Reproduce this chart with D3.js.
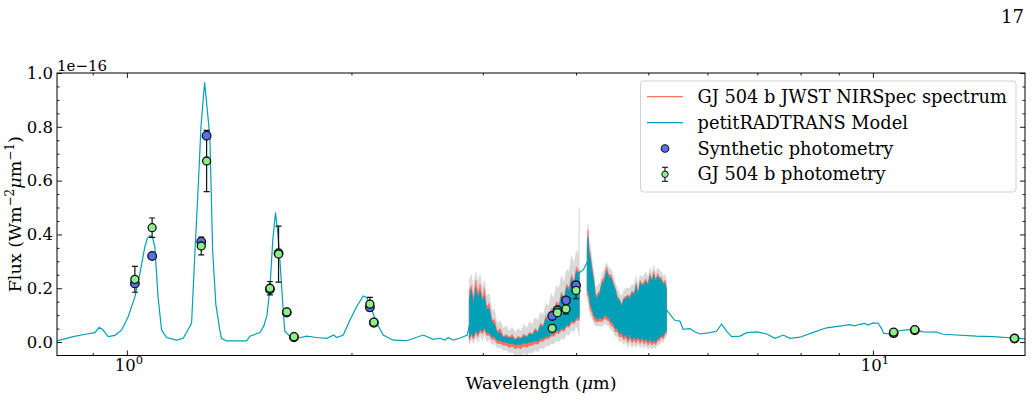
<!DOCTYPE html>
<html>
<head>
  <meta charset="utf-8">
  <script src="https://d3js.org/d3.v7.min.js"></script>
  <style>
    body { margin: 0; background: #fff; }
    text { font-family: "DejaVu Serif", serif; fill: #000; }
  </style>
</head>
<body>
<script>
  // ---- data (flux in units of 1e-16 W m^-2 um^-1) ----

  // petitRADTRANS model, outside the NIRSpec band (null = break)
  var modelWave = [0.806, 0.847, 0.883, 0.906, 0.918, 0.929, 0.944, 0.964, 0.984, 1.004,
    1.025, 1.041, 1.057, 1.065, 1.073, 1.082, 1.090, 1.101, 1.113, 1.130,
    1.166, 1.190, 1.221, 1.234, 1.245, 1.257, 1.271, 1.280, 1.292, 1.303,
    1.316, 1.332, 1.339, 1.360, 1.447, 1.462, 1.508, 1.526, 1.541, 1.555,
    1.569, 1.582, 1.594, 1.604, 1.620, 1.628, 1.654, 1.706, 1.741, 1.796,
    1.853, 1.894, 1.910, 1.950, 1.991, 2.032, 2.074, 2.096, 2.118, 2.162,
    2.206, 2.275, 2.371, 2.496, 2.574, 2.628, 2.669, 2.696, 2.738, 2.810,
    2.859, 2.877, null,
    4.03, 4.09, 4.145, null,
    5.291, 5.428, 5.512, 5.568, 5.684, 5.772, 5.862, 6.045, 6.172, 6.268,
    6.368, 6.467, 6.635, 6.773, 6.985, 7.205, 7.391, 7.583, 7.741, 7.984,
    8.318, 8.669, 9.124, 9.3, 9.45, 9.607, 9.75, 9.85, 10.0, 10.165,
    10.27, 10.34, 10.54, 10.87, 11.10, 11.32, 11.68, 12.17, 12.42, 13.77,
    14.50, 15.42, 15.99];
  var modelFlux = [0.004, 0.020, 0.030, 0.035, 0.055, 0.045, 0.020, 0.025, 0.045, 0.094,
    0.168, 0.255, 0.354, 0.385, 0.395, 0.390, 0.354, 0.168, 0.045, 0.017,
    0.007, 0.014, 0.070, 0.340, 0.550, 0.800, 0.965, 0.880, 0.760, 0.342,
    0.140, 0.045, 0.014, 0.004, 0.004, 0.022, 0.035, 0.060, 0.100, 0.200,
    0.380, 0.481, 0.400, 0.300, 0.120, 0.040, 0.022, 0.016, 0.022, 0.017,
    0.014, 0.026, 0.017, 0.026, 0.082, 0.131, 0.171, 0.166, 0.138, 0.070,
    0.026, 0.007, 0.005, 0.026, 0.010, 0.014, 0.007, 0.017, 0.007, 0.017,
    0.026, 0.060, null,
    0.255, 0.268, 0.300, null,
    0.119, 0.080, 0.078, 0.047, 0.050, 0.038, 0.030, 0.035, 0.040, 0.067,
    0.040, 0.020, 0.022, 0.035, 0.038, 0.030, 0.014, 0.026, 0.014, 0.018,
    0.036, 0.053, 0.061, 0.065, 0.060, 0.066, 0.069, 0.063, 0.071, 0.070,
    0.050, 0.032, 0.030, 0.043, 0.045, 0.047, 0.038, 0.037, 0.029, 0.022,
    0.020, 0.015, 0.012];

  // NIRSpec region: error band, spectrum band, model band (null = detector gap)
  var specWave = [2.877, 2.895, 2.915, 2.935, 2.955, 2.975, 2.995, 3.015, 3.035, 3.06,
    3.085, 3.11, 3.135, 3.165, 3.195, 3.225, 3.255, 3.285, 3.315, 3.345,
    3.375, 3.405, 3.435, 3.465, 3.495, 3.525, 3.555, 3.585, 3.615, 3.645,
    3.675, 3.705, 3.735, 3.765, 3.795, 3.825, 3.855, 3.885, 3.915, 3.945,
    3.975, 4.005, 4.03, 4.04, 4.09, 4.14, 4.15, 4.165, 4.18, 4.2,
    4.225, 4.25, 4.275, 4.305, 4.335, 4.365, 4.395, 4.425, 4.455, 4.485,
    4.515, 4.545, 4.575, 4.605, 4.635, 4.665, 4.695, 4.725, 4.755, 4.785,
    4.815, 4.845, 4.875, 4.905, 4.935, 4.965, 4.995, 5.025, 5.055, 5.085,
    5.115, 5.145, 5.175, 5.205, 5.235, 5.265, 5.29];
  var errLo = [-0.01, 0.01, -0.005, 0.02, 0.0, 0.025, 0.005, 0.03, 0.0, 0.01,
    -0.01, -0.005, -0.02, -0.02, -0.03, -0.03, -0.04, -0.038, -0.048, -0.045,
    -0.05, -0.04, -0.05, -0.038, -0.042, -0.03, -0.035, -0.022, -0.025, -0.015,
    -0.015, -0.005, -0.008, 0.005, 0.0, 0.015, 0.01, 0.03, 0.025, 0.045,
    0.04, 0.06, 0.04, 0.02, null, 0.15, 0.16, 0.12, 0.10, 0.09,
    0.07, 0.06, 0.06, 0.06, 0.058, 0.07, 0.065, 0.06, 0.045, 0.04,
    0.02, 0.022, 0.0, 0.005, -0.01, 0.0, -0.02, -0.002, -0.022, -0.008,
    -0.02, -0.005, -0.022, -0.01, -0.025, -0.012, -0.028, -0.015, -0.028, -0.018,
    -0.025, -0.01, -0.01, 0.002, -0.002, 0.015, 0.02];
  var specLo = [0.005, 0.025, 0.01, 0.035, 0.02, 0.04, 0.03, 0.045, 0.025, 0.025,
    0.01, 0.01, -0.005, -0.005, -0.012, -0.012, -0.02, -0.016, -0.025, -0.02,
    -0.025, -0.016, -0.02, -0.012, -0.012, -0.006, -0.008, 0.002, 0.004, 0.012,
    0.012, 0.022, 0.022, 0.034, 0.032, 0.044, 0.04, 0.058, 0.055, 0.072,
    0.068, 0.082, 0.08, 0.08, null, 0.17, 0.18, 0.15, 0.12, 0.11,
    0.085, 0.075, 0.075, 0.078, 0.075, 0.088, 0.082, 0.078, 0.062, 0.058,
    0.038, 0.038, 0.018, 0.022, 0.008, 0.018, -0.002, 0.014, -0.004, 0.008,
    -0.004, 0.01, -0.006, 0.006, -0.008, 0.002, -0.012, 0.0, -0.012, -0.004,
    -0.01, 0.004, 0.006, 0.018, 0.012, 0.03, 0.032];
  var modLo = [0.014, 0.035, 0.02, 0.045, 0.03, 0.05, 0.04, 0.055, 0.035, 0.035,
    0.02, 0.02, 0.007, 0.006, 0.0, -0.001, -0.006, -0.004, -0.01, -0.008,
    -0.009, -0.003, -0.005, 0.0, 0.0, 0.004, 0.003, 0.012, 0.012, 0.022,
    0.02, 0.032, 0.03, 0.042, 0.04, 0.052, 0.048, 0.065, 0.062, 0.08,
    0.075, 0.09, 0.09, 0.09, null, 0.19, 0.20, 0.17, 0.14, 0.125,
    0.10, 0.09, 0.085, 0.09, 0.085, 0.10, 0.095, 0.09, 0.075, 0.07,
    0.05, 0.05, 0.03, 0.035, 0.02, 0.03, 0.01, 0.025, 0.008, 0.02,
    0.008, 0.02, 0.005, 0.018, 0.004, 0.014, 0.0, 0.012, -0.002, 0.008,
    0.0, 0.014, 0.015, 0.028, 0.02, 0.038, 0.04];
  var modHi = [0.16, 0.195, 0.14, 0.20, 0.165, 0.19, 0.15, 0.17, 0.12, 0.125,
    0.075, 0.065, 0.035, 0.035, 0.018, 0.02, 0.015, 0.018, 0.008, 0.015,
    0.012, 0.022, 0.018, 0.03, 0.026, 0.042, 0.036, 0.062, 0.055, 0.09,
    0.075, 0.115, 0.095, 0.14, 0.13, 0.175, 0.155, 0.205, 0.19, 0.235,
    0.215, 0.265, 0.25, 0.26, null, 0.34, 0.39, 0.33, 0.31, 0.27,
    0.225, 0.16, 0.17, 0.18, 0.22, 0.225, 0.265, 0.24, 0.24, 0.215,
    0.195, 0.16, 0.155, 0.13, 0.16, 0.16, 0.17, 0.16, 0.185, 0.17,
    0.21, 0.175, 0.22, 0.21, 0.215, 0.225, 0.21, 0.245, 0.225, 0.25,
    0.225, 0.245, 0.235, 0.23, 0.215, 0.22, 0.19];
  var specHi = [0.19, 0.21, 0.16, 0.23, 0.18, 0.215, 0.16, 0.20, 0.13, 0.145,
    0.08, 0.085, 0.04, 0.05, 0.02, 0.028, 0.018, 0.028, 0.01, 0.022,
    0.015, 0.03, 0.02, 0.036, 0.03, 0.05, 0.04, 0.07, 0.06, 0.098,
    0.08, 0.125, 0.10, 0.15, 0.14, 0.185, 0.16, 0.215, 0.20, 0.25,
    0.22, 0.28, 0.26, 0.27, null, 0.36, 0.416, 0.345, 0.33, 0.28,
    0.235, 0.17, 0.18, 0.19, 0.23, 0.24, 0.28, 0.25, 0.25, 0.225,
    0.20, 0.17, 0.16, 0.14, 0.165, 0.17, 0.175, 0.17, 0.19, 0.18,
    0.22, 0.18, 0.23, 0.215, 0.225, 0.235, 0.215, 0.255, 0.23, 0.262,
    0.23, 0.255, 0.24, 0.24, 0.22, 0.23, 0.20];
  var errHi = [0.23, 0.25, 0.20, 0.26, 0.22, 0.25, 0.20, 0.23, 0.17, 0.18,
    0.12, 0.12, 0.07, 0.08, 0.05, 0.06, 0.04, 0.055, 0.035, 0.05,
    0.04, 0.065, 0.05, 0.075, 0.065, 0.09, 0.08, 0.11, 0.10, 0.145,
    0.13, 0.18, 0.16, 0.21, 0.20, 0.245, 0.22, 0.27, 0.26, 0.32,
    0.29, 0.34, 0.32, 0.50, null, 0.39, 0.44, 0.37, 0.36, 0.31,
    0.26, 0.20, 0.21, 0.22, 0.25, 0.27, 0.295, 0.275, 0.27, 0.25,
    0.22, 0.20, 0.18, 0.17, 0.19, 0.20, 0.20, 0.20, 0.215, 0.21,
    0.245, 0.21, 0.25, 0.24, 0.25, 0.26, 0.24, 0.275, 0.255, 0.285,
    0.255, 0.275, 0.265, 0.26, 0.245, 0.25, 0.23];

  // GJ 504 b photometry
  var photWave = [1.025, 1.081, 1.258, 1.279, 1.555, 1.597, 1.638, 1.675, 2.117, 2.143,
    3.716, 3.776, 3.878, 4.00, 10.66, 11.38, 15.48];
  var photFlux = [0.233, 0.425, 0.357, 0.673, 0.200, 0.327, 0.112, 0.020, 0.141, 0.074,
    0.051, 0.109, 0.123, 0.192, 0.037, 0.046, 0.014];
  var photErr = [0.048, 0.036, 0.033, 0.114, 0.025, 0.104, 0.008, 0.003, 0.025, 0.005,
    0.004, 0.01, 0.018, 0.031, 0.004, 0.004, 0.003];

  // synthetic photometry from the model
  var synWave = [1.025, 1.081, 1.258, 1.279, 1.555, 1.597, 1.638, 1.675, 2.117, 2.143,
    3.716, 3.776, 3.878, 4.00, 10.66, 11.38, 15.48];
  var synFlux = [0.218, 0.320, 0.373, 0.767, 0.196, 0.330, 0.110, 0.018, 0.129, 0.072,
    0.097, 0.118, 0.155, 0.211, 0.033, 0.044, 0.013];

  var xMajor = [1, 10];
  var xMinor = [0.9, 2, 3, 4, 5, 6, 7, 8, 9];
  var yMajor = [0.0, 0.2, 0.4, 0.6, 0.8, 1.0];
  var yMinor = [0.05, 0.1, 0.15, 0.25, 0.3, 0.35, 0.45, 0.5, 0.55, 0.65, 0.7, 0.75, 0.85, 0.9, 0.95];

  var legendLabels = ["GJ 504 b JWST NIRSpec spectrum", "petitRADTRANS Model",
    "Synthetic photometry", "GJ 504 b photometry"];

  // ---- chart ----
  var width = 1033, height = 413;
  var pL = 57, pR = 1025, pT = 73, pB = 355.5;
  var cTeal = "#00a0b8", cRed = "#ff7163", cGrey = "#d9d9d9",
      cBlue = "#5a6ff0", cGreen = "#8af08a";

  var svg = d3.select("body").append("svg")
    .attr("width", width).attr("height", height);

  var x = d3.scaleLog().domain([0.806, 15.99]).range([pL, pR]);
  var y = d3.scaleLinear().domain([-0.05, 1.0]).range([pB, pT]);

  svg.append("defs").append("clipPath").attr("id", "clip")
    .append("rect").attr("x", pL).attr("y", pT)
    .attr("width", pR - pL).attr("height", pB - pT);

  var plot = svg.append("g").attr("clip-path", "url(#clip)");

  function band(lo, hi) {
    return d3.area()
      .defined(function (d, i) { return lo[i] != null; })
      .x(function (d) { return x(d); })
      .y0(function (d, i) { return y(lo[i]); })
      .y1(function (d, i) { return y(hi[i]); });
  }

  plot.append("path").attr("d", band(errLo, errHi)(specWave))
    .attr("fill", cGrey).attr("stroke", cGrey).attr("stroke-width", 0.6);
  plot.append("path").attr("d", band(specLo, specHi)(specWave))
    .attr("fill", cRed).attr("stroke", cRed).attr("stroke-width", 0.6);
  plot.append("path").attr("d", band(modLo, modHi)(specWave))
    .attr("fill", cTeal).attr("stroke", cTeal).attr("stroke-width", 0.6);

  var line = d3.line()
    .defined(function (d, i) { return modelFlux[i] != null; })
    .x(function (d) { return x(d); })
    .y(function (d, i) { return y(modelFlux[i]); });
  plot.append("path").attr("d", line(modelWave))
    .attr("fill", "none").attr("stroke", cTeal).attr("stroke-width", 1.2);

  // error bars
  var eb = plot.append("g").attr("stroke", "#111").attr("stroke-width", 1.2);
  photWave.forEach(function (w, i) {
    var cx = x(w), ya = y(photFlux[i] - photErr[i]), yb = y(photFlux[i] + photErr[i]);
    eb.append("line").attr("x1", cx).attr("x2", cx).attr("y1", ya).attr("y2", yb);
    eb.append("line").attr("x1", cx - 3).attr("x2", cx + 3).attr("y1", ya).attr("y2", ya);
    eb.append("line").attr("x1", cx - 3).attr("x2", cx + 3).attr("y1", yb).attr("y2", yb);
  });

  plot.selectAll("circle.syn").data(synWave).enter().append("circle")
    .attr("class", "syn")
    .attr("cx", function (d) { return x(d); })
    .attr("cy", function (d, i) { return y(synFlux[i]); })
    .attr("r", 4.3).attr("fill", cBlue).attr("stroke", "#111").attr("stroke-width", 1.3);

  plot.selectAll("circle.phot").data(photWave).enter().append("circle")
    .attr("class", "phot")
    .attr("cx", function (d) { return x(d); })
    .attr("cy", function (d, i) { return y(photFlux[i]); })
    .attr("r", 4).attr("fill", cGreen).attr("stroke", "#111").attr("stroke-width", 1.3);

  // axes, ticks pointing inward on all four sides
  function styleAxis(g) {
    g.select(".domain").remove();
    g.selectAll("line").attr("stroke", "#000").attr("stroke-width", 0.9);
  }
  svg.append("g").attr("transform", "translate(0," + pB + ")")
    .call(d3.axisBottom(x).tickValues(xMajor).tickSize(-5).tickFormat("")).call(styleAxis);
  svg.append("g").attr("transform", "translate(0," + pB + ")")
    .call(d3.axisBottom(x).tickValues(xMinor).tickSize(-2.5).tickFormat("")).call(styleAxis);
  svg.append("g").attr("transform", "translate(0," + pT + ")")
    .call(d3.axisTop(x).tickValues(xMajor).tickSize(-5).tickFormat("")).call(styleAxis);
  svg.append("g").attr("transform", "translate(0," + pT + ")")
    .call(d3.axisTop(x).tickValues(xMinor).tickSize(-2.5).tickFormat("")).call(styleAxis);

  var yl = svg.append("g").attr("transform", "translate(" + pL + ",0)")
    .call(d3.axisLeft(y).tickValues(yMajor).tickSize(-5).tickPadding(4).tickFormat(d3.format(".1f")))
    .call(styleAxis);
  yl.selectAll("text").attr("font-size", 16.5).attr("font-family", "DejaVu Serif").attr("fill", "#000");
  svg.append("g").attr("transform", "translate(" + pL + ",0)")
    .call(d3.axisLeft(y).tickValues(yMinor).tickSize(-2.5).tickFormat("")).call(styleAxis);
  svg.append("g").attr("transform", "translate(" + pR + ",0)")
    .call(d3.axisRight(y).tickValues(yMajor).tickSize(-5).tickFormat("")).call(styleAxis);
  svg.append("g").attr("transform", "translate(" + pR + ",0)")
    .call(d3.axisRight(y).tickValues(yMinor).tickSize(-2.5).tickFormat("")).call(styleAxis);

  svg.append("rect").attr("x", pL).attr("y", pT)
    .attr("width", pR - pL).attr("height", pB - pT)
    .attr("fill", "none").attr("stroke", "#000").attr("stroke-width", 1);

  // x tick labels as 10^n
  xMajor.forEach(function (v) {
    var t = svg.append("text").attr("x", x(v) + 2).attr("y", 371)
      .attr("text-anchor", "middle").attr("font-size", 16.5);
    t.append("tspan").text("10");
    t.append("tspan").attr("font-size", 11.5).attr("dy", -7).text(Math.round(Math.log10(v)));
  });

  // offset text
  svg.append("text").attr("x", pL).attr("y", 71).attr("font-size", 15).text("1e\u221216");

  // axis labels
  var xlab = svg.append("text").attr("x", (pL + pR) / 2).attr("y", 389)
    .attr("text-anchor", "middle").attr("font-size", 17.5);
  xlab.append("tspan").text("Wavelength (");
  xlab.append("tspan").attr("font-style", "italic").text("\u03bc");
  xlab.append("tspan").text("m)");

  var ylab = svg.append("text")
    .attr("transform", "translate(21," + (pT + pB) / 2 + ") rotate(-90)")
    .attr("text-anchor", "middle").attr("font-size", 17.5);
  ylab.append("tspan").text("Flux (Wm");
  ylab.append("tspan").attr("font-size", 12).attr("dy", -7).text("\u22122");
  ylab.append("tspan").attr("dy", 7).attr("font-style", "italic").text("\u03bc");
  ylab.append("tspan").text("m");
  ylab.append("tspan").attr("font-size", 12).attr("dy", -7).text("\u22121");
  ylab.append("tspan").attr("dy", 7).text(")");

  // page number
  svg.append("text").attr("x", 1024).attr("y", 23).attr("text-anchor", "end")
    .attr("font-family", "Liberation Serif").attr("font-size", 18).text("17");

  // legend
  var lg = svg.append("g");
  lg.append("rect").attr("x", 640.5).attr("y", 81).attr("width", 375.5).attr("height", 111)
    .attr("rx", 3).attr("fill", "#fff").attr("fill-opacity", 0.85)
    .attr("stroke", "#d0d0d0").attr("stroke-width", 1);
  var rows = [96.7, 122.6, 148.5, 174.3];
  lg.append("line").attr("x1", 647).attr("x2", 683).attr("y1", rows[0]).attr("y2", rows[0])
    .attr("stroke", cRed).attr("stroke-width", 1.2);
  lg.append("line").attr("x1", 647).attr("x2", 683).attr("y1", rows[1]).attr("y2", rows[1])
    .attr("stroke", cTeal).attr("stroke-width", 1.2);
  lg.append("circle").attr("cx", 665).attr("cy", rows[2]).attr("r", 3.8)
    .attr("fill", cBlue).attr("stroke", "#111").attr("stroke-width", 1.1);
  lg.append("line").attr("x1", 665).attr("x2", 665).attr("y1", rows[3] - 7).attr("y2", rows[3] + 7)
    .attr("stroke", "#111").attr("stroke-width", 1.1);
  lg.append("line").attr("x1", 662).attr("x2", 668).attr("y1", rows[3] - 7).attr("y2", rows[3] - 7)
    .attr("stroke", "#111").attr("stroke-width", 1.1);
  lg.append("line").attr("x1", 662).attr("x2", 668).attr("y1", rows[3] + 7).attr("y2", rows[3] + 7)
    .attr("stroke", "#111").attr("stroke-width", 1.1);
  lg.append("circle").attr("cx", 665).attr("cy", rows[3]).attr("r", 3.2)
    .attr("fill", cGreen).attr("stroke", "#111").attr("stroke-width", 1);
  legendLabels.forEach(function (s, i) {
    lg.append("text").attr("x", 697.5).attr("y", rows[i] + 6).attr("font-size", 17.8).text(s);
  });
</script>
</body>
</html>
